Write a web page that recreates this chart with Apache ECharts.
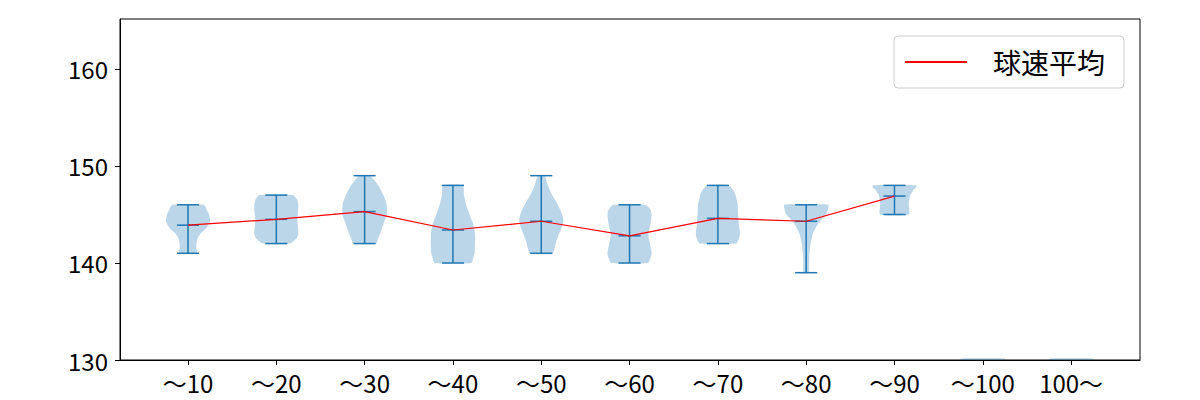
<!DOCTYPE html>
<html>
<head>
<meta charset="utf-8">
<script src="https://cdn.jsdelivr.net/npm/echarts@6/dist/echarts.min.js"></script>
<style>html,body{margin:0;padding:0;background:#fff}#c{width:1200px;height:400px}</style>
</head>
<body>
<div id="c"></div>
<script>
// ---- data ----
const categories = ['〜10','〜20','〜30','〜40','〜50','〜60','〜70','〜80','〜90','〜100','100〜'];
const positions = [1,2,3,4,5,6,7,8,9,10,11];
const mins  = [141,142,142,140,141,140,142,139,145,null,null];
const maxs  = [146,147,149,148,149,146,148,146,148,null,null];
const means = [143.9,144.5,145.3,143.4,144.3,142.8,144.6,144.3,146.9,null,null];
const yTicks = [130,140,150,160];
// violin outlines: [speed, relative half width]
const violin1  = [[141,0.42],[141.5,0.38],[142,0.38],[142.5,0.42],[143,0.55],[143.5,0.8],[144.3,1.0],[145,0.95],[145.5,0.85],[146,0.72]];
const violin2  = [[142,0.6],[142.5,0.9],[143,1.0],[144,0.97],[144.5,0.95],[145,0.98],[146,1.0],[146.5,0.95],[147,0.75]];
const violin3  = [[142,0.52],[142.5,0.6],[143,0.7],[144,0.85],[145,1.0],[146,1.0],[147,0.85],[148,0.62],[148.5,0.45],[149,0.25]];
const violin4  = [[140,0.82],[140.5,0.92],[141,0.98],[142,1.0],[143,1.0],[144,0.92],[145,0.75],[146,0.6],[147,0.5],[148,0.45]];
const violin5  = [[141,0.52],[141.5,0.6],[142.5,0.72],[143.5,0.9],[144.3,1.0],[145,0.95],[146,0.75],[147,0.5],[148,0.3],[149,0.15]];
const violin6  = [[140,0.82],[140.5,0.95],[141,1.0],[142,0.92],[143,0.85],[144,0.95],[145,1.0],[145.5,0.95],[146,0.72]];
const violin7  = [[142,0.82],[142.5,0.95],[143,1.0],[144,0.95],[145,0.92],[146,0.9],[147,0.8],[147.5,0.7],[148,0.5]];
const violin8  = [[139,0.12],[140,0.13],[141,0.15],[142,0.2],[143,0.3],[143.5,0.4],[144,0.52],[144.5,0.7],[145,0.9],[145.5,0.98],[146,1.0]];
const violin9  = [[145,0.65],[146,0.65],[146.5,0.66],[147,0.72],[147.5,0.85],[147.8,0.98],[148,1.0]];
const violin10 = [[130,1.0],[130.15,1.0]];
const violin11 = [[130,1.0],[130.15,1.0]];
const violins = [violin1,violin2,violin3,violin4,violin5,violin6,violin7,violin8,violin9,violin10,violin11];

const BLUE = '#1f77b4';
const FONT = 'Noto Sans CJK JP';
const chart = echarts.init(document.getElementById('c'), null, {renderer:'svg'});

const violinData = positions.map((p,i)=>[p, mins[i], maxs[i], means[i]]);
const meanLine = positions.map((p,i)=>[p, means[i]]).filter(d=>d[1]!=null);

function renderViolin(params, api){
  const i = params.dataIndex;
  const pos = api.value(0);
  const prof = violins[i];
  const halfMax = 0.25;
  const right = prof.map(d=>api.coord([pos + d[1]*halfMax, d[0]]));
  const left = prof.slice().reverse().map(d=>api.coord([pos - d[1]*halfMax, d[0]]));
  const children = [{
    type:'polygon',
    shape:{points: right.concat(left), smooth: 0.2},
    style:{fill:'rgba(31,119,180,0.3)', stroke:'none'}
  }];
  const mn = api.value(1), mx = api.value(2), me = api.value(3);
  if (mn != null && !isNaN(mn)) {
    const cap = 0.125;
    const ln = (a,b)=>({type:'line', shape:{x1:a[0],y1:a[1],x2:b[0],y2:b[1]}, style:{stroke:BLUE, lineWidth:1.5}});
    children.push(ln(api.coord([pos,mn]), api.coord([pos,mx])));
    [mn,mx,me].forEach(v=>children.push(ln(api.coord([pos-cap,v]), api.coord([pos+cap,v]))));
  }
  return {type:'group', children};
}

chart.setOption({
  animation:false,
  backgroundColor:'#fff',
  textStyle:{fontFamily:FONT},
  grid:{left:120, right:60, top:19, bottom:40, show:true, borderColor:'#000', borderWidth:1, backgroundColor:'transparent'},
  legend:{
    data:[{name:'球速平均', icon:'rect'}],
    left:894, top:36,
    backgroundColor:'#fff', borderColor:'#cccccc', borderWidth:1, borderRadius:4,
    padding:[12,19,12,11],
    itemWidth:62, itemHeight:2,
    itemStyle:{color:'#ff0000', borderWidth:0},
    textStyle:{fontFamily:FONT, fontSize:28, color:'#000', padding:[0,0,0,21]}
  },
  xAxis:{
    type:'value', min:0.23, max:11.78,
    splitLine:{show:false},
    axisLine:{show:true, onZero:false, lineStyle:{color:'#000', width:1}},
    axisTick:{show:true, length:5, lineStyle:{color:'#000'}, customValues:positions},
    axisLabel:{fontFamily:FONT, fontSize:24, color:'#000', margin:10, customValues:positions,
      formatter:v=>categories[Math.round(v)-1] || ''}
  },
  yAxis:{
    type:'value', min:130, max:165.15, interval:10,
    splitLine:{show:false},
    axisLine:{show:true, onZero:false, lineStyle:{color:'#000', width:1}},
    axisTick:{show:true, length:5, lineStyle:{color:'#000'}, customValues:yTicks},
    axisLabel:{fontFamily:FONT, fontSize:24, color:'#000', margin:12, customValues:yTicks}
  },
  series:[
    {type:'custom', name:'violin', renderItem:renderViolin, data:violinData, z:2, clip:true,
      encode:{x:0, y:[1,2,3]}},
    {type:'line', name:'球速平均', data:meanLine, symbol:'none', showSymbol:false, z:3,
      lineStyle:{color:'#ff0000', width:1.2}, itemStyle:{color:'#ff0000'}}
  ]
});
</script>
</body>
</html>
